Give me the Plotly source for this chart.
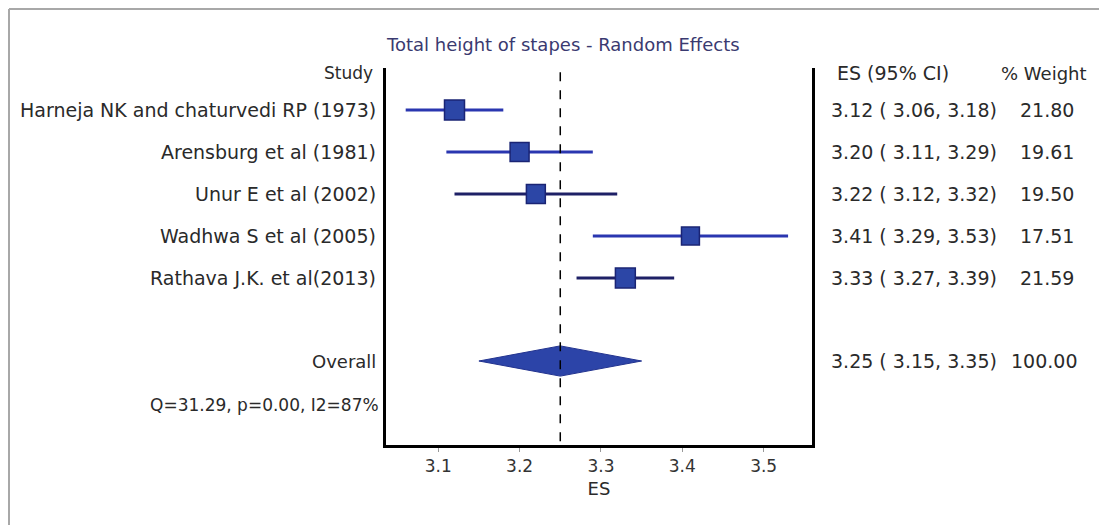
import plotly.graph_objects as go

studies = ["Harneja NK and chaturvedi RP (1973)", "Arensburg et al (1981)", "Unur E et al (2002)",
           "Wadhwa S et al (2005)", "Rathava J.K. et al(2013)"]
es = [3.12, 3.20, 3.22, 3.41, 3.33]
lo = [3.06, 3.11, 3.12, 3.29, 3.27]
hi = [3.18, 3.29, 3.32, 3.53, 3.39]
weights = [21.80, 19.61, 19.50, 17.51, 21.59]
ci_text = ["3.12 ( 3.06, 3.18)", "3.20 ( 3.11, 3.29)", "3.22 ( 3.12, 3.32)",
           "3.41 ( 3.29, 3.53)", "3.33 ( 3.27, 3.39)"]
weight_text = ["21.80", "19.61", "19.50", "17.51", "21.59"]
overall = {"label": "Overall", "es": 3.25, "lo": 3.15, "hi": 3.35,
           "ci": "3.25 ( 3.15, 3.35)", "w": "100.00"}
het_text = "Q=31.29, p=0.00, I2=87%"
title_text = "Total height of stapes - Random Effects"
x_ticks = [3.1, 3.2, 3.3, 3.4, 3.5]

line_colors = ["#2a36b0", "#2a36b0", "#1e2066", "#2a36b0", "#1e2066"]
FONT = "DejaVu Sans, Verdana, sans-serif"
TXT = "#2a2a2a"

# page body has an 8px margin; target coordinates are in window pixels
OFF = 8
W, H = 1107 - OFF, 525 - OFF
L, R, T, B = 386, 812, 68, 445
def px(x):
    return (x - L) / (R - L)
def py(y):
    return (B - y) / (B - T)

rows = list(range(len(studies)))
row_overall = 5.976
row_het = 7.02
row_head = -0.88

fig = go.Figure()

for i in rows:
    fig.add_trace(go.Scatter(x=[lo[i], hi[i]], y=[i, i], mode="lines",
                             line=dict(color=line_colors[i], width=3),
                             hoverinfo="skip", showlegend=False))

sizes = [20 * (w / max(weights)) ** 0.5 for w in weights]
fig.add_trace(go.Scatter(x=es, y=rows, mode="markers",
                         marker=dict(symbol="square", size=sizes, color="#2c46a6", opacity=1,
                                     line=dict(color="#1a2474", width=1.5)),
                         showlegend=False))

h = 0.36
fig.add_trace(go.Scatter(x=[overall["lo"], overall["es"], overall["hi"], overall["es"], overall["lo"]],
                         y=[row_overall, row_overall - h, row_overall, row_overall + h, row_overall],
                         mode="lines", fill="toself", fillcolor="#2c44a8",
                         line=dict(color="#22338f", width=1), showlegend=False))

# dashed overall line
fig.add_shape(type="line", x0=overall["es"], x1=overall["es"], xref="x", yref="paper",
              y0=0.01, y1=1, line=dict(color="black", width=1.5, dash="dash"))

# outer frame (top and left)
fig.add_shape(type="line", xref="paper", yref="paper", x0=px(9), x1=px(1107), y0=py(9), y1=py(9),
              line=dict(color="#a8a8a8", width=2))
fig.add_shape(type="line", xref="paper", yref="paper", x0=px(9), x1=px(9), y0=py(9), y1=py(525),
              line=dict(color="#a8a8a8", width=2))

def f(size, color=TXT):
    return dict(family=FONT, size=size, color=color)

ann = []
for i in rows:
    ann.append(dict(x=px(378), y=i, xref="paper", yref="y", text=studies[i], showarrow=False,
                    xanchor="right", yanchor="middle", font=f(19)))
    ann.append(dict(x=px(829), y=i, xref="paper", yref="y", text=ci_text[i], showarrow=False,
                    xanchor="left", yanchor="middle", font=f(19)))
    ann.append(dict(x=px(1076), y=i, xref="paper", yref="y", text=weight_text[i], showarrow=False,
                    xanchor="right", yanchor="middle", font=f(19)))
ann.append(dict(x=px(378), y=row_overall, xref="paper", yref="y", text=overall["label"], showarrow=False,
                xanchor="right", yanchor="middle", font=f(18)))
ann.append(dict(x=px(829), y=row_overall, xref="paper", yref="y", text=overall["ci"], showarrow=False,
                xanchor="left", yanchor="middle", font=f(19)))
ann.append(dict(x=px(1079), y=row_overall, xref="paper", yref="y", text=overall["w"], showarrow=False,
                xanchor="right", yanchor="middle", font=f(19)))
ann.append(dict(x=px(381), y=row_het, xref="paper", yref="y", text=het_text, showarrow=False,
                xanchor="right", yanchor="middle", font=f(17)))
ann.append(dict(x=px(375), y=row_head, xref="paper", yref="y", text="Study", showarrow=False,
                xanchor="right", yanchor="middle", font=f(17)))
ann.append(dict(x=px(835), y=row_head, xref="paper", yref="y", text="ES (95% CI)", showarrow=False,
                xanchor="left", yanchor="middle", font=f(19)))
ann.append(dict(x=px(1089), y=row_head, xref="paper", yref="y", text="% Weight", showarrow=False,
                xanchor="right", yanchor="middle", font=f(18)))
ann.append(dict(x=px(384), y=py(45), xref="paper", yref="paper", text=title_text, showarrow=False,
                xanchor="left", yanchor="middle", font=f(18, "#3a3a70")))

fig.update_layout(
    width=W, height=H, margin=dict(l=L - OFF, r=W - (R - OFF), t=T - OFF, b=H - (B - OFF)),
    paper_bgcolor="white", plot_bgcolor="white",
    annotations=ann, showlegend=False,
    xaxis=dict(range=[3.0358, 3.5594], tickvals=x_ticks, ticktext=[str(v) for v in x_ticks],
               showgrid=False, zeroline=False, showline=True, linecolor="black", linewidth=2.5,
               ticks="outside", ticklen=4, tickcolor="#999999", tickfont=f(17, "#333333"),
               title=dict(text="ES", font=f(18), standoff=8)),
    yaxis=dict(range=[7.976, -1.0], showgrid=False, zeroline=False, showticklabels=False,
               showline=True, mirror=True, linecolor="black", linewidth=2.5, ticks=""),
)

fig.write_html("out.html")
